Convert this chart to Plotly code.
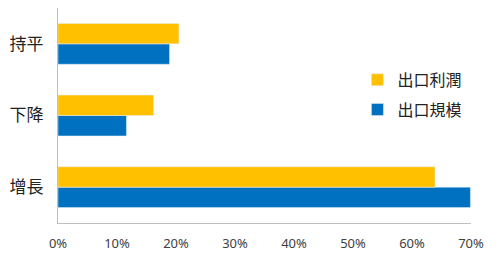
import plotly.graph_objects as go

categories = ["增長", "下降", "持平"]
scale_vals = [0.699, 0.116, 0.189]   # 出口規模
profit_vals = [0.639, 0.162, 0.205]  # 出口利潤
tick_vals = [0, 0.1, 0.2, 0.3, 0.4, 0.5, 0.6, 0.7]

fig = go.Figure()
fig.add_trace(go.Bar(y=categories, x=scale_vals, orientation="h", name="出口規模",
                     marker=dict(color="#0070C0"), legendgroup="b", legendrank=2))
fig.add_trace(go.Bar(y=categories, x=profit_vals, orientation="h", name="出口利潤",
                     marker=dict(color="#FFC000"), legendgroup="a", legendrank=1))

fig.update_layout(
    width=500, height=257,
    margin=dict(l=58, r=29, t=8, b=34),
    paper_bgcolor="white", plot_bgcolor="white",
    barmode="group", bargap=0.43, bargroupgap=0,
    font=dict(family="Noto Sans CJK TC, Noto Sans", color="#000"),
    legend=dict(x=0.725, y=0.745, xanchor="left", yanchor="top",
                traceorder="grouped", tracegroupgap=6,
                font=dict(size=16, family="Noto Sans CJK TC", color="#222"),
                itemwidth=30, bgcolor="rgba(0,0,0,0)"),
    showlegend=True,
)
fig.update_xaxes(range=[0, 0.7], tickvals=tick_vals, tickformat=".0%",
                 showgrid=False, showline=True, linecolor="#BFBFBF", linewidth=1,
                 ticks="outside", ticklen=8, tickcolor="rgba(0,0,0,0)", zeroline=False,
                 automargin=False,
                 tickfont=dict(size=13, family="Noto Sans", color="#404040"))
fig.update_yaxes(showgrid=False, showline=True, linecolor="#BFBFBF", linewidth=1,
                 ticks="outside", ticklen=10, tickcolor="rgba(0,0,0,0)",
                 automargin=False,
                 tickfont=dict(size=17, family="Noto Sans CJK TC", color="#222"))

fig.write_html("out.html")
